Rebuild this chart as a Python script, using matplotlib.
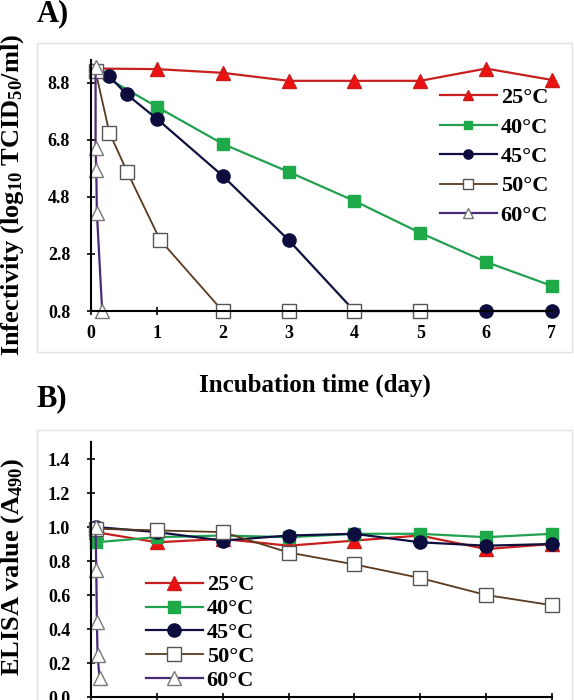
import matplotlib.pyplot as plt
from matplotlib.patches import Rectangle

plt.rcParams['font.family'] = 'Liberation Serif'
plt.rcParams['font.weight'] = 'bold'
plt.rcParams['mathtext.fontset'] = 'custom'
plt.rcParams['mathtext.rm'] = 'Liberation Serif:bold'
plt.rcParams['mathtext.bf'] = 'Liberation Serif:bold'
plt.rcParams['mathtext.default'] = 'rm'

# Panel A: infectivity (log10 TCID50/ml)
labels = ["25°C", "40°C", "45°C", "50°C", "60°C"]
a_days_25 = [0.07, 1, 2, 3, 4, 5, 6, 7]
a_val_25 = [9.3, 9.28, 9.15, 8.87, 8.87, 8.87, 9.3, 8.9]
a_days_40 = [0.07, 1, 2, 3, 4, 5, 6, 7]
a_val_40 = [9.2, 7.96, 6.66, 5.68, 4.66, 3.54, 2.52, 1.68]
a_days_45 = [0.07, 0.27, 0.54, 1, 2, 3, 4, 5, 6, 7]
a_val_45 = [9.2, 9.05, 8.4, 7.54, 5.54, 3.29, 0.8, 0.8, 0.8, 0.8]
a_days_50 = [0.07, 0.28, 0.55, 1.05, 2, 3, 4, 5]
a_val_50 = [9.2, 7.05, 5.68, 3.29, 0.8, 0.8, 0.8, 0.8]
a_days_60 = [0.07, 0.07, 0.08, 0.09, 0.17]
a_val_60 = [9.35, 6.52, 5.75, 4.24, 0.8]

# Panel B: ELISA value (A490)
b_days = [0.07, 1, 2, 3, 4, 5, 6, 7]
b_val_25 = [0.97, 0.91, 0.93, 0.89, 0.92, 0.95, 0.87, 0.90]
b_val_40 = [0.91, 0.94, 0.95, 0.94, 0.96, 0.96, 0.94, 0.96]
b_val_45 = [1.0, 0.97, 0.92, 0.95, 0.96, 0.91, 0.89, 0.90]
b_val_50 = [0.99, 0.98, 0.97, 0.85, 0.78, 0.70, 0.60, 0.54]
b_days_60 = [0.07, 0.08, 0.09, 0.10, 0.13]
b_val_60 = [1.0, 0.75, 0.44, 0.25, 0.11]

styles = [
    dict(color='#c81e1e', marker='^', mfc='#ee1111', mec='#c81e1e', ms=10, lw=1.6),
    dict(color='#22a050', marker='s', mfc='#1faa4a', mec='#1faa4a', ms=9, lw=1.6),
    dict(color='#101040', marker='o', mfc='#0c0c3e', mec='#0c0c3e', ms=9.5, lw=1.6),
    dict(color='#5a3a1e', marker='s', mfc='white', mec='#555555', ms=10, lw=1.3),
    dict(color='#4a2a78', marker='^', mfc='white', mec='#777777', ms=10, lw=1.6),
]

fig = plt.figure(figsize=(5.74, 7.0), dpi=100)

# light chart-area boxes
fig.patches.append(Rectangle((0.0645, 0.497), 0.932, 0.442, transform=fig.transFigure,
                             fill=False, edgecolor='#e2e2e2', lw=1))
fig.patches.append(Rectangle((0.0645, -0.05), 0.932, 0.436, transform=fig.transFigure,
                             fill=False, edgecolor='#e2e2e2', lw=1))

axA = fig.add_axes([0.1585, 0.5557, 0.803, 0.3586])
a_x = [a_days_25, a_days_40, a_days_45, a_days_50, a_days_60]
a_y = [a_val_25, a_val_40, a_val_45, a_val_50, a_val_60]
for xs, ys, lab, st in zip(a_x, a_y, labels, styles):
    axA.plot(xs, ys, label=lab, clip_on=False, **st)
axA.set_xlim(0.045, 7)
axA.set_ylim(0.8, 9.6)
axA.set_xticks(range(0, 8))
axA.set_yticks([0.8, 2.8, 4.8, 6.8, 8.8])
axA.set_yticklabels(["0.8", "2.8", "4.8", "6.8", "8.8"])
axA.spines['top'].set_visible(False)
axA.spines['right'].set_visible(False)
axA.tick_params(direction='inout', length=6, width=1.2, labelsize=13)
axA.tick_params(axis='y', pad=12)
axA.tick_params(axis='x', pad=7)
axA.spines['left'].set_linewidth(1.5)
axA.spines['bottom'].set_linewidth(1.5)
axA.set_facecolor('none')
axA.legend(loc='upper right', bbox_to_anchor=(1.035, 0.97), frameon=False,
           fontsize=16, handlelength=2.6, handletextpad=0.15, labelspacing=0.4,
           markerscale=0.7)

axB = fig.add_axes([0.1585, 3 / 700, 0.803, 255 / 700])
b_y = [b_val_25, b_val_40, b_val_45, b_val_50]
for ys, lab, st in zip(b_y, labels[:4], styles[:4]):
    axB.plot(b_days, ys, label=lab, clip_on=False, **st)
axB.plot(b_days_60, b_val_60, label=labels[4], clip_on=False, **styles[4])
axB.set_xlim(0.045, 7)
axB.set_ylim(0, 1.5)
axB.set_xticks(range(0, 8))
axB.set_yticks([0.0, 0.2, 0.4, 0.6, 0.8, 1.0, 1.2, 1.4])
axB.set_yticklabels(["0.0", "0.2", "0.4", "0.6", "0.8", "1.0", "1.2", "1.4"])
axB.spines['top'].set_visible(False)
axB.spines['right'].set_visible(False)
axB.spines['left'].set_linewidth(1.5)
axB.spines['bottom'].set_linewidth(1.5)
axB.tick_params(direction='inout', length=6, width=1.2, labelsize=13, pad=12)
axB.tick_params(axis='x', labelbottom=False)
axB.set_facecolor('none')
axB.legend(loc='lower left', bbox_to_anchor=(0.075, -0.055), frameon=False,
           fontsize=16, handlelength=2.6, handletextpad=0.15, labelspacing=0.15)

fig.text(0.064, 0.981, "A)", fontsize=22, fontweight='bold', va='center', ha='left')
fig.text(0.064, 0.43, "B)", fontsize=22, fontweight='bold', va='center', ha='left')
fig.text(0.548, 0.449, "Incubation time (day)", fontsize=18, fontweight='bold',
         va='center', ha='center')
fig.text(0.022, 0.722, r"Infectivity (log$_{10}$ TCID$_{50}$/ml)",
         fontsize=19, fontweight='bold', rotation=90, va='center', ha='center')
fig.text(0.022, 0.19, r"ELISA value (A$_{490}$)", fontsize=19, fontweight='bold',
         rotation=90, va='center', ha='center')

fig.savefig("out.png", dpi=100)
